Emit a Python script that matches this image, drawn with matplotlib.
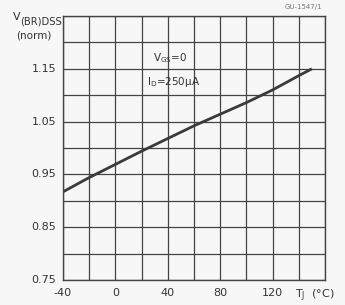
import numpy as np
import matplotlib.pyplot as plt

# junction temperature (°C) vs normalised breakdown voltage
tj = [-40, -20, 0, 20, 40, 60, 80, 100, 120, 140, 150]
vbr = [0.917, 0.944, 0.969, 0.994, 1.018, 1.042, 1.064, 1.086, 1.110, 1.137, 1.150]

xticks = [-40, 0, 40, 80, 120]
yticks = [0.75, 0.85, 0.95, 1.05, 1.15]

fig = plt.figure(figsize=(3.45, 3.05), dpi=100, facecolor='#f7f7f7')
ax = fig.add_axes([63/345, 25/305, 262/345, 264/305])
ax.set_facecolor('#f7f7f7')

ax.plot(tj, vbr, color='#3a3a3a', lw=2.0, solid_capstyle='butt')

ax.set_xlim(-40, 160)
ax.set_ylim(0.75, 1.25)
ax.set_xticks(np.arange(-40, 161, 20), minor=False)
ax.set_yticks(np.arange(0.75, 1.251, 0.05))
ax.grid(True, color='#444444', lw=0.9)
ax.tick_params(length=0, labelbottom=False, labelleft=False)
for s in ax.spines.values():
    s.set_color('#444444')
    s.set_linewidth(1.0)

tc = '#333333'
for x in xticks:
    ax.text(x, 0.735, f'{x}', ha='center', va='top', fontsize=8, color=tc)
for y in yticks:
    ax.text(-45, y, f'{y:.2f}', ha='right', va='center', fontsize=8, color=tc)

ax.text(137, 0.735, r'T$_{\rm J}$  (°C)', ha='left', va='top', fontsize=8, color=tc)
fig.text(13/345, 1 - 17/305, 'V', ha='left', va='center', fontsize=8, color=tc)
fig.text(20.5/345, 1 - 22/305, '(BR)DSS', ha='left', va='center', fontsize=7.2, color=tc)
fig.text(16/345, 1 - 35/305, '(norm)', ha='left', va='center', fontsize=7.5, color=tc)
fig.text(322/345, 1 - 7/305, 'GU-1547/1', ha='right', va='center', fontsize=5, color='#777777')

ax.text(29, 1.17, r'V$_{\rm GS}$=0', ha='left', va='center', fontsize=7.5, color=tc)
ax.text(24, 1.125, r'I$_{\rm D}$=250µA', ha='left', va='center', fontsize=7.5, color=tc)

fig.savefig('out.png', dpi=100, facecolor=fig.get_facecolor())
